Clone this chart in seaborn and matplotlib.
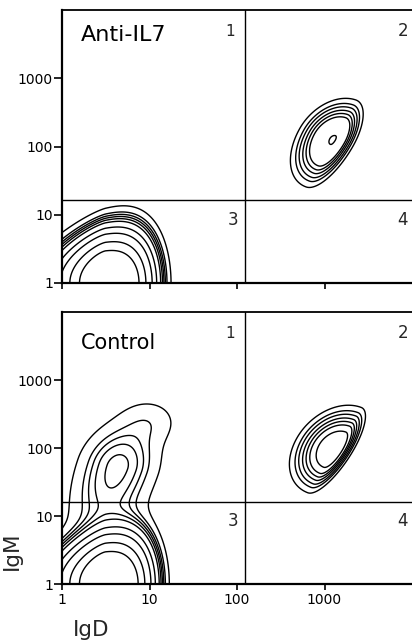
import numpy as np
import matplotlib
matplotlib.use("Agg")
import matplotlib.pyplot as plt
import seaborn as sns

# ---------------- values ----------------
panel_names = ["Anti-IL7", "Control"]
quadrant_labels = ["1", "2", "3", "4"]
y_ticks = [1, 10, 100, 1000]
y_tick_labels = ["1", "10", "100", "1000"]
x_ticks = [1, 10, 100, 1000]
x_tick_labels = ["1", "10", "100", "1000"]
x_label = "IgD"
y_label = "IgM"
gate_igd = [125, 122]      # vertical quadrant gate (IgD)
gate_igm = [16.5, 16.2]    # horizontal quadrant gate (IgM)

# IgD-low / IgM-low population (log10 units):
# centre IgD, left width, right width, left power, right power, IgM scale, IgM-scale slope
dome_anti = [0.50, 0.30, 0.38, 1.5, 2.5, 0.41, 0.30]
dome_ctrl = [0.50, 0.30, 0.37, 1.5, 2.5, 0.41, 0.30]
dome_levels = [1.0, 1.6, 2.3, 2.9, 3.5, 3.8, 4.05, 4.3, 4.6, 5.4]

# IgD+ IgM+ population: centre IgD, centre IgM, tilt (deg),
# sd along (low side, high side), sd across (lower-right, upper-left)
blob_anti = [3.10, 2.10, 66, 0.31, 0.26, 0.10, 0.17]
blob_ctrl = [3.12, 1.98, 64, 0.29, 0.28, 0.08, 0.19]
blob_levels_anti = [0.97, 0.40, 0.30, 0.22, 0.15, 0.10, 0.05]
blob_levels_ctrl = [0.60, 0.40, 0.30, 0.22, 0.15, 0.10, 0.05]

# IgD- IgM+ population (control only), core and upper tail, weights relative to dome
igm_ctrl_core = [0.63, 1.72, 75, 0.65, 0.38, 0.26, 0.25]
igm_ctrl_tail = [1.00, 2.40, 45, 0.22, 0.22, 0.22, 0.22]
igm_ctrl_weights = [0.025, 0.007]


def dome(U, V, p):
    uc, wl, wr, pl, pr, sv0, k = p
    du = U - uc
    g = np.where(du < 0, (np.abs(du) / wl) ** pl, (np.abs(du) / wr) ** pr)
    sv = sv0 * (1 + k * np.clip(U, 0, None))
    return np.exp(-g - (np.clip(V, 0, None) / sv) ** 2)


def blob(U, V, p):
    cu, cv, ang, sa_n, sa_p, sb_n, sb_p = p
    t = np.deg2rad(ang)
    du, dv = U - cu, V - cv
    a = du * np.cos(t) + dv * np.sin(t)
    b = -du * np.sin(t) + dv * np.cos(t)
    sa = np.where(a < 0, sa_n, sa_p)
    sb = np.where(b < 0, sb_n, sb_p)
    return np.exp(-0.5 * ((a / sa) ** 2 + (b / sb) ** 2))


sns.set_theme(style="ticks")
plt.rcParams["font.family"] = ["DejaVu Sans"]

fig = plt.figure(figsize=(4.12, 6.44), dpi=100)
ax_top = fig.add_axes([62 / 412, (644 - 283) / 644, 350 / 412, 273 / 644])
ax_bot = fig.add_axes([62 / 412, (644 - 584) / 644, 350 / 412, 272 / 644])

u = np.linspace(-0.3, 4.2, 600)
v = np.linspace(-0.3, 4.2, 600)
U, V = np.meshgrid(u, v)
X, Y = 10 ** U, 10 ** V

lw = 1.0
for i, ax in enumerate([ax_top, ax_bot]):
    ax.set_xscale("log")
    ax.set_yscale("log")
    if i == 0:
        Zd = dome(U, V, dome_anti)
        Zb = blob(U, V, blob_anti)
        blev = blob_levels_anti
    else:
        Zd = (dome(U, V, dome_ctrl)
              + igm_ctrl_weights[0] * blob(U, V, igm_ctrl_core)
              + igm_ctrl_weights[1] * blob(U, V, igm_ctrl_tail))
        Zb = blob(U, V, blob_ctrl)
        blev = blob_levels_ctrl
    lev = sorted(np.exp(-np.array(dome_levels)))
    left = U < 2.0
    ax.contour(X, Y, np.where(left, Zd, 0), levels=lev, colors="black", linewidths=lw)
    ax.contour(X, Y, np.where(~left, Zb, 0), levels=sorted(blev), colors="black", linewidths=lw)

    ax.axvline(gate_igd[i], color="black", lw=1.0)
    ax.axhline(gate_igm[i], color="black", lw=1.0)

    ax.set_xlim(1, 1e4)
    ax.set_ylim(1, 1e4)
    ax.minorticks_off()
    ax.set_yticks(y_ticks, y_tick_labels)
    ax.set_xticks(x_ticks, x_tick_labels if i == 1 else [""] * len(x_ticks))
    ax.tick_params(axis="y", direction="out", length=6, width=1.2, pad=0.5,
                   labelsize=10, colors="black")
    ax.tick_params(axis="x", direction="out", length=4.5, width=1.2, pad=2,
                   labelsize=10, colors="black")
    for s in ["left", "bottom"]:
        ax.spines[s].set_linewidth(1.6)
        ax.spines[s].set_color("black")
    ax.spines["top"].set_linewidth(1.3)
    ax.spines["top"].set_color("black")
    ax.spines["right"].set_visible(False)
    ax.set_facecolor("white")

    ax.text(0.055, 0.91 if i == 0 else 0.885, panel_names[i], transform=ax.transAxes,
            fontsize=16 if i == 0 else 15, ha="left", va="center", color="black")
    qy_top = 0.922
    qy_bot = 0.232
    ax.text(0.48, qy_top, quadrant_labels[0], transform=ax.transAxes, fontsize=11,
            ha="center", va="center")
    ax.text(0.974, qy_top, quadrant_labels[1], transform=ax.transAxes, fontsize=12,
            ha="center", va="center")
    ax.text(0.489, qy_bot, quadrant_labels[2], transform=ax.transAxes, fontsize=12,
            ha="center", va="center")
    ax.text(0.974, qy_bot, quadrant_labels[3], transform=ax.transAxes, fontsize=12,
            ha="center", va="center")

fig.text(12 / 412, 1 - 551 / 644, y_label, rotation=90, fontsize=15.5,
         ha="center", va="center")
fig.text(91 / 412, 1 - 630 / 644, x_label, fontsize=15.5, ha="center", va="center")

fig.savefig("out.png", dpi=100, facecolor="white")
